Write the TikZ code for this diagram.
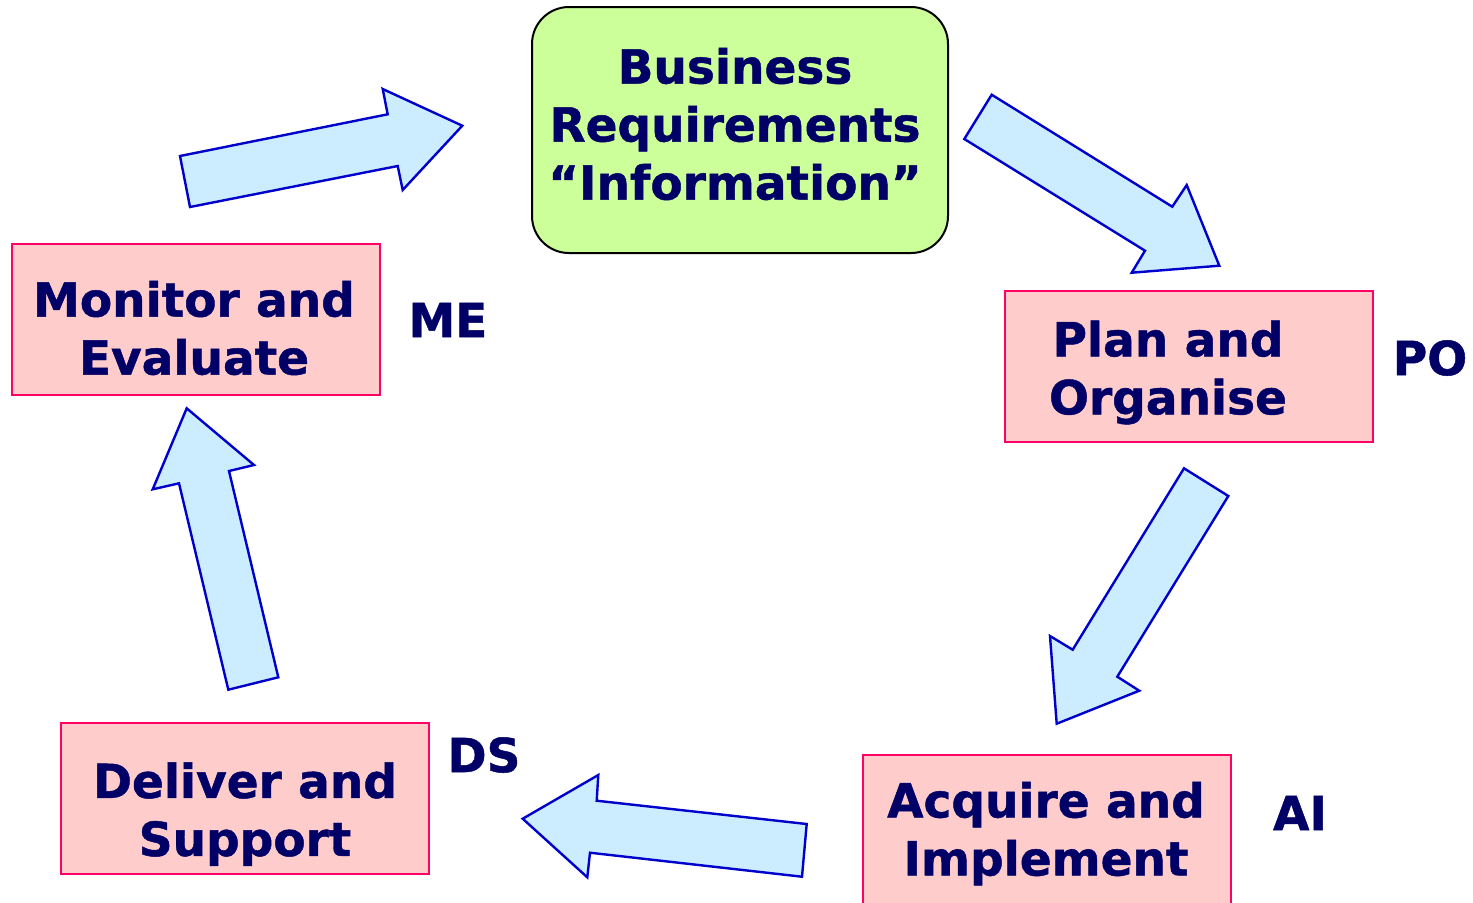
\documentclass[tikz,border=0pt]{standalone}
\usepackage{fontspec}
\setmainfont{DejaVu Sans}[BoldFeatures={FakeBold=1}]
\definecolor{navy}{HTML}{000066}
\definecolor{pinkfill}{HTML}{FFCCCC}
\definecolor{pinkline}{HTML}{FF0066}
\definecolor{limefill}{HTML}{CCFF99}
\definecolor{skyfill}{HTML}{CCECFF}
\definecolor{arrowline}{HTML}{0000CC}
\begin{document}
\begin{tikzpicture}[x=0.5pt, y=-0.5pt,
	box/.style = {draw=pinkline, fill=pinkfill, line width=1pt, minimum width=184pt, minimum height=75.5pt, inner sep=0pt},
	words/.style = {text=navy, font=\fontsize{23.5}{29}\selectfont\bfseries, align=center, inner sep=0pt},
	tag/.style = {text=navy, font=\fontsize{23.5}{29}\selectfont\bfseries, inner sep=0pt},
	blockarrow/.style = {draw=arrowline, fill=skyfill, line width=1.2pt, line join=miter}]
		\useasboundingbox (0,0) rectangle (1473,902);
		\node [draw=black, fill=limefill, line width=1pt, rounded corners=18.5pt, minimum width=208pt, minimum height=123pt] (biz) at (740,130) {};
		\node [words] (biztext) at (735,124) {Business\\Requirements\\“Information”};
	      \node [box] (me) at (196,319.5) {};
	      \node [words] (metext) at (194,328) {Monitor and\\Evaluate};
	      \node [tag] (melabel) at (448,320) {ME};
	      \node [box] (po) at (1188.5,366.5) {};
	      \node [words] (potext) at (1168,372.5) {Plan and\\Organise};
	      \node [tag] (polabel) at (1430,358) {PO};
	      \node [box] (ai) at (1046.5,830) {};
	      \node [words] (aitext) at (1046,833.5) {Acquire and\\Implement};
	      \node [tag] (ailabel) at (1300,813) {AI};
	      \node [box] (ds) at (244.5,798.5) {};
	      \node [words] (dstext) at (245,814) {Deliver and\\Support};
	      \node [tag] (dslabel) at (484,755) {DS};
	      \draw [blockarrow] (180,156) -- (387.7,114.3) -- (382.7,89) -- (462.3,125.7) -- (402.7,190) -- (397.7,166) -- (190,207) -- cycle;
	      \draw [blockarrow] (991.7,94.7) -- (1172.3,206.7) -- (1186.7,185) -- (1219.3,265.7) -- (1131.7,272.7) -- (1145,250.7) -- (964.3,139) -- cycle;
	      \draw [blockarrow] (1184,468.3) -- (1228.3,496) -- (1117.3,676.7) -- (1139.3,690.7) -- (1056.7,723.7) -- (1050,636) -- (1072.7,649.7) -- cycle;
	      \draw [blockarrow] (806.7,824) -- (802,876.7) -- (590,852.7) -- (587.3,877.3) -- (522.7,818.7) -- (598.3,775) -- (596.7,800.7) -- cycle;
	      \draw [blockarrow] (186.7,408.3) -- (254,465) -- (229,471) -- (278.3,677.3) -- (228.3,689.7) -- (179,483.3) -- (152.7,489.3) -- cycle;
	\end{tikzpicture}
\end{document}
